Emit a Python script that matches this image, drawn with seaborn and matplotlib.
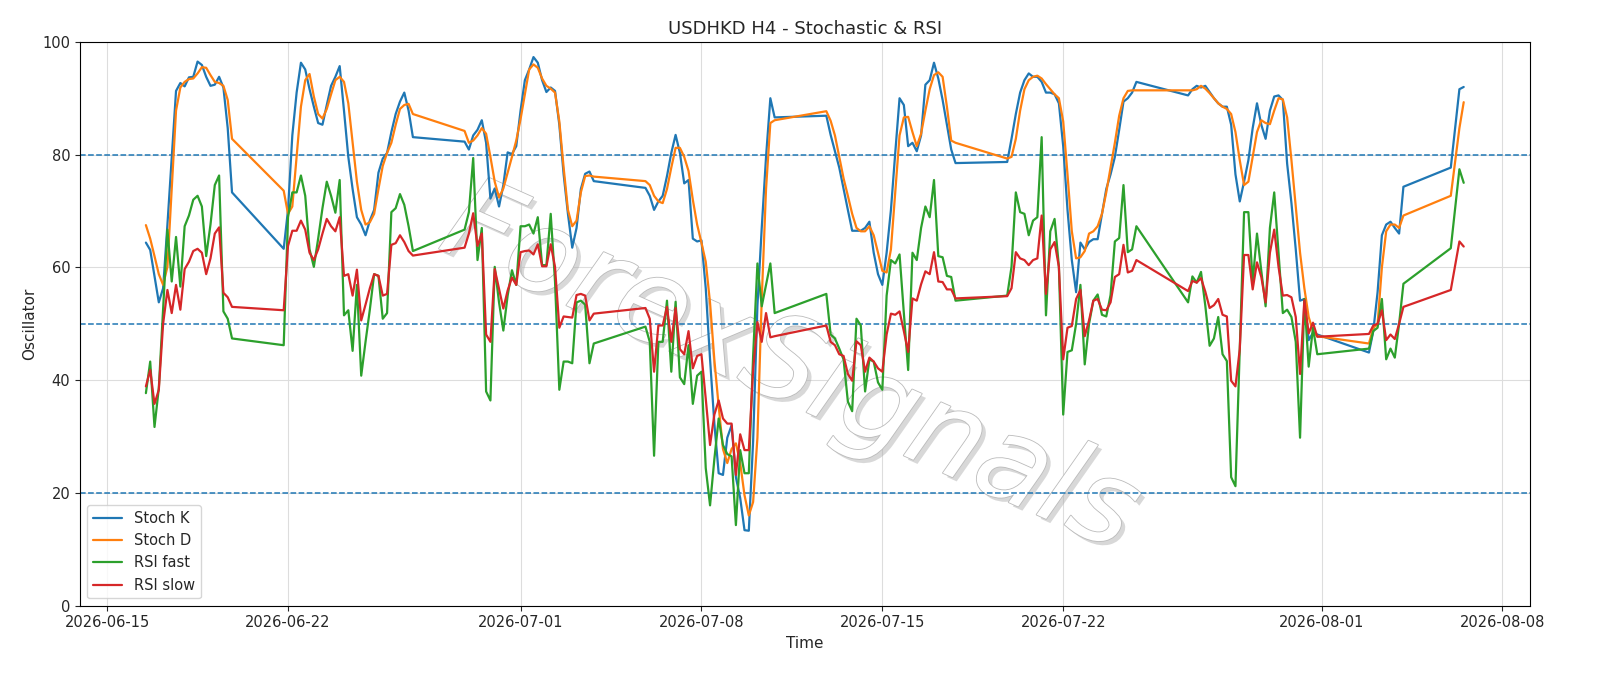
import matplotlib
matplotlib.use("Agg")
import matplotlib.pyplot as plt
import matplotlib.patheffects as pe
import seaborn as sns
import pandas as pd

sessions = [("2026-06-16 12:00", 21), ("2026-06-21 20:00", 31), ("2026-06-28 20:00", 31),
            ("2026-07-05 20:00", 31), ("2026-07-12 20:00", 31), ("2026-07-19 20:00", 31),
            ("2026-07-26 20:00", 31), ("2026-08-02 20:00", 9), ("2026-08-06 00:00", 1),
            ("2026-08-06 08:00", 2)]

stoch_k = [64.4,63.1,58.5,53.8,56.3,67.6,79.6,91.3,92.7,92.1,93.7,93.8,96.5,95.9,93.8,92.2,92.4,93.8,91.9,84.7,73.3,
 63.3,70.2,83.4,91,96.3,95.1,91.6,88.5,85.6,85.3,88.8,92.2,93.8,95.7,87.8,79.6,73.9,68.9,67.6,65.7,68.3,70.2,76.8,79.3,80.3,84,87.2,89.4,91,87.8,83.1,
 82.3,80.9,83.4,84.4,86.1,82.1,72.2,74,70.8,74.6,80.4,80.1,81.5,87.8,93.2,95.1,97.3,96.3,93.2,91.1,91.9,91.3,85.3,76.5,69.5,63.5,67,73.9,76.6,77,75.3,
 74.1,72.7,70.2,71.7,72.7,76.2,80.3,83.5,80.3,74.9,75.5,65.1,64.6,64.8,56.3,43.7,32.3,23.5,23.2,29.8,32,22.8,19.1,13.4,13.3,29.2,53.2,67,79.6,90,86.6,
 86.9,83.5,80.6,77.7,73.9,70.2,66.5,66.5,66.5,67,68.1,62.6,58.8,56.9,62.6,70.2,80.3,90,88.8,81.5,82.1,80.6,83.4,92.4,93.2,96.3,93.5,89.7,85.3,80.9,78.5,
 78.7,82.8,87.2,91,93.2,94.4,93.8,93.8,92.9,91,91,90.7,89.1,81.5,70.2,61.3,55.6,64.4,63.2,64.5,65,65,69.5,73.9,76.5,79.6,84.4,89.4,90,91,92.9,
 90.5,91.6,92.2,91.9,92.2,91.1,90,89.1,88.5,88.5,85.3,76.5,71.7,75.2,79,84.7,89.1,85.3,82.8,87.8,90.3,90.5,89.7,78.4,71.4,63.2,54.1,54.4,47.1,48.4,48.1,
 44.9,48.7,55.6,65.7,67.6,68.1,67,66,74.3,77.7,91.6,92]

stoch_d = [67.5,65.1,62,58.8,56.9,60.1,74,87.8,91.9,92.9,93.4,93.5,94.4,95.5,95.4,94.1,92.9,92.7,92.2,89.7,82.8,
 73.6,69.5,70.8,79.6,88.5,93.2,94.3,90.3,87.2,86.4,88.1,90.7,93.2,93.8,92.9,89.1,82.1,75.2,70.2,67.6,68,69.5,73.9,78,80.3,82.1,85.3,88.1,88.8,89,87.2,
 84.2,82.1,82.5,83.4,84.7,83.7,79.6,75.2,72.4,74,76.8,79.6,82.5,86.3,90.7,95.1,96,95.4,93.5,92.2,91.7,91,85.9,77.7,70.2,67.3,68.3,73.3,76.2,76.3,76.1,
 75.3,74.6,72.7,71.7,71.4,73.9,77.7,81.2,81.2,79.6,77.1,72,67.6,64.4,61,53.7,43.6,35.4,27.8,25.3,27.8,28.8,25.3,19.6,16,18.4,29.8,54.4,73.9,85.6,86.1,
 87.7,86,83.4,79.6,75.8,72.7,69.5,67,66.4,66.4,67.3,65.7,62.6,59.4,59.1,63.2,73.3,83.4,86.6,86.7,84,81.5,83.7,87.8,91.6,94.1,94.6,93.8,88.5,82.5,82.1,
 79.3,79.6,82.8,87.8,91.6,93.2,93.8,94,93.5,92.5,91.6,90.7,90,85.9,76.5,66.4,61.6,61.8,62.9,66,66.4,67.3,69.5,73.3,77.7,82.1,86.9,90,91.3,91.4,91.4,
 91.4,91.4,91.6,92.2,91.7,90.9,90,89.1,88.5,88.1,87.2,84,79,74.6,75.2,79.6,84,86.1,85.6,85.4,87.8,90,89.8,86.6,79,70.8,62.6,56.3,51.2,48.7,47.8,
 46.5,49.3,49.9,60,66.4,67.6,67.6,67,69.2,72.7,84.7,89.3]

rsi_fast = [37.7,43.3,31.7,38.6,52.5,66.7,57.5,65.4,56.6,67.3,69.2,72,72.7,70.8,62,67.6,74.6,76.3,52.2,50.9,47.4,
 46.2,68.9,73.3,73.3,76.3,72.7,63.2,60.1,65.1,70.5,75.2,72.7,69.7,75.5,51.5,52.4,45.2,56.9,40.8,46.8,52.5,58.8,58.5,50.9,51.9,69.8,70.5,73,71.1,67.3,62.9,
 66.7,69.8,79.4,61.3,67,38,36.4,60.1,53.8,48.8,55,59.5,56.9,67.3,67.3,67.6,66,68.9,60.4,60.4,69.5,57.5,38.3,43.3,43.3,43,53.8,54.1,53.4,43,46.5,
 49.5,46.8,26.6,46.8,46.8,54.1,41.5,53.9,40.5,39.3,46.2,35.8,40.8,41.5,24.4,17.8,26,33.2,28.5,26.9,26.5,14.3,27.6,23.5,23.5,44.3,60.7,53.1,56.9,60.7,51.9,
 55.3,48.1,47.4,45.6,43.7,36.2,34.5,50.9,49.7,38,43.7,43.3,39.6,38.3,55,61.3,60.7,62.3,51.9,41.8,62.6,61.3,67,70.8,68.9,75.5,62,61.8,58.5,58.3,54.1,
 55,60.1,73.3,69.8,69.5,65.7,68.3,68.9,83.1,51.5,66.4,68.6,60.1,33.9,45,45.3,50,56.9,42.8,50,54.1,55.2,51.6,51.3,55.1,64.6,65.2,74.6,62.7,63.2,67.3,
 53.8,58.4,57.3,59.2,53.2,46.1,47.4,51.2,44.6,43.4,22.8,21.2,45.6,69.8,69.8,57.5,66,59.4,53.1,67,73.3,62.6,51.9,52.5,51.2,46.8,29.8,54.4,42.4,49.3,44.6,
 45.6,48.7,49.3,54.4,43.7,45.6,44,50,57.1,63.4,77.4,75]

rsi_slow = [38.9,41.8,35.8,38.3,50,56,51.9,56.9,52.5,59.7,61,62.9,63.3,62.6,58.8,61.6,66,67.1,55.5,54.7,53,
 52.4,63.8,66.5,66.5,68.3,66.7,62.6,61.3,63.2,66,68.6,67.3,66.4,68.9,58.5,58.8,55,59.6,50.6,53.4,56.3,58.8,58.5,55,55.3,64,64.3,65.7,64.5,62.9,62.1,
 63.5,66,69.6,63.8,66,48.1,46.8,59.7,56.2,52.7,55.9,58.2,56.9,62.7,62.9,63,62.3,64.1,60.2,60.2,64.1,60.1,49.3,51.3,51.2,51.1,55.1,55.3,55,50.6,51.8,
 52.8,50.9,41.5,49.7,49.7,53,46.8,52.8,45.5,44.6,48.7,42.1,44.3,44.6,36.7,28.5,33.9,36.4,33.2,32.3,32.3,23.2,30.4,27.6,27.6,41.8,50.3,46.8,51.9,47.6,47.8,
 49.7,46.8,46.2,44.6,44.3,41.1,39.9,46.9,46.2,41.5,44,43.3,42.1,41.5,48.1,51.8,51.6,52.2,48.7,45,54.5,54.1,57,59.3,58.8,62.7,57.5,57.4,56.1,56.1,54.5,
 54.9,56.3,62.7,61.6,61.3,60.4,61.3,61.6,69.2,55.3,63.2,64.5,60.1,43.7,49.3,49.6,54.4,56,47.8,50.6,54.1,54.4,52.5,52.4,53.8,58.3,58.8,64,59.1,59.4,61.3,
 55.8,57.6,57.3,58.1,55.7,52.8,53.3,54.4,51.6,51.3,39.9,38.9,45.5,62.2,62.2,56.1,60.9,58.3,53.8,62.6,66.7,60.1,55,55.1,54.7,51.2,41.1,54.2,48.3,50.2,47.7,
 48.2,49.7,50,52.4,47.1,48.1,47.3,50,53,56,64.6,63.7]

levels = [80, 50, 20]

times = pd.DatetimeIndex([])
for start, n in sessions:
    times = times.append(pd.date_range(start, periods=n, freq="4h"))

df = pd.DataFrame({"Time": times, "Stoch K": stoch_k, "Stoch D": stoch_d,
                   "RSI fast": rsi_fast, "RSI slow": rsi_slow})

sns.set_style("ticks")
plt.rcParams["font.family"] = ["DejaVu Sans"]
fig = plt.figure(figsize=(16, 6.86), dpi=100)
ax = fig.add_axes([0.05, 0.117, 0.906, 0.822])

ax.text(0.49, 0.42, "ForexSignals", transform=ax.transAxes, fontsize=84, color="white",
        rotation=-24, ha="center", va="center", style="italic", fontweight="light",
        fontfamily="DejaVu Sans", zorder=1,
        path_effects=[pe.SimplePatchShadow(offset=(3, -3), shadow_rgbFace="#aaaaaa", alpha=0.45),
                      pe.withStroke(linewidth=1.2, foreground="#bbbbbb")])

colors = ["#1f77b4", "#ff7f0e", "#2ca02c", "#d62728"]
for name, c in zip(["Stoch K", "Stoch D", "RSI fast", "RSI slow"], colors):
    sns.lineplot(data=df, x="Time", y=name, ax=ax, color=c, label=name, linewidth=1.6, zorder=3)

for lv in levels:
    ax.axhline(lv, color="#1f77b4", linestyle="--", linewidth=1.1, zorder=2)

ax.set_ylim(0, 100)
ax.grid(True, color="#dddddd", linewidth=0.8)
ax.set_axisbelow(True)
ax.set_title("USDHKD H4 - Stochastic & RSI", fontsize=13)
ax.set_xlabel("Time", fontsize=11)
ax.set_ylabel("Oscillator", fontsize=11)
ax.tick_params(labelsize=10.5)
for s in ax.spines.values():
    s.set_color("black")
ax.legend(loc="lower left", fontsize=10.5, frameon=True)

fig.savefig("out.png", dpi=100)
